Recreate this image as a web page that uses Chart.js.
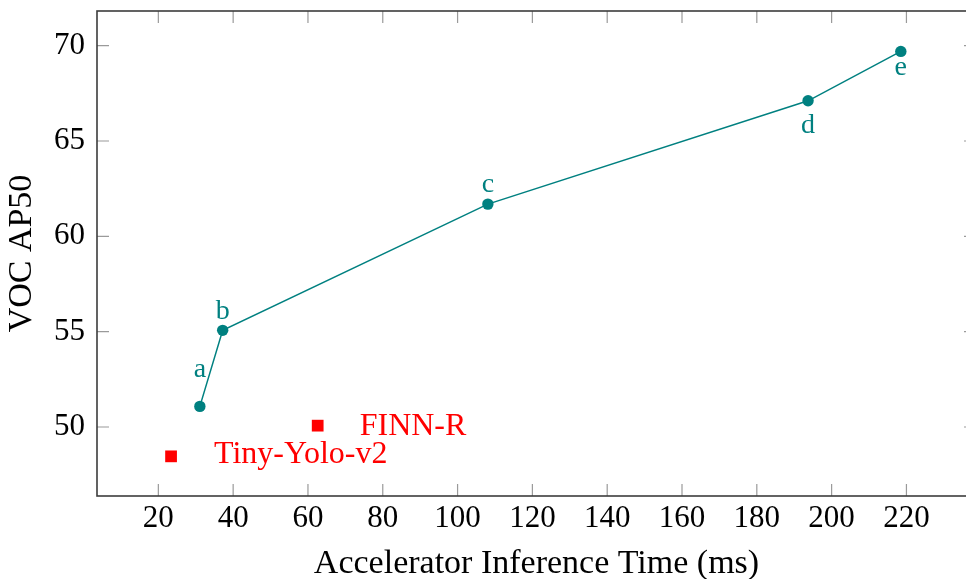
<!DOCTYPE html>
<html>

<head>
    <meta charset="utf-8" />
    <title>VOC AP50 vs Accelerator Inference Time</title>
    <style>
        html, body { margin: 0; padding: 0; background: #fff; overflow: hidden; }
        /* wider than the window: the right frame edge is cut off in the original */
        #wrap { width: 1000px; height: 579px; }
    </style>
</head>

<body>
    <div id="wrap"><canvas id="chart"></canvas></div>

    <script src="https://cdn.jsdelivr.net/npm/chart.js"></script>
    <script type="text/javascript">

        // our networks (a..e)
        const ourNames = ['a', 'b', 'c', 'd', 'e'];
        const ourTimes = [31.1, 37.2, 108.1, 193.7, 218.5];
        const ourAP = [51.08, 55.07, 61.69, 67.11, 69.70];

        // reference designs
        const refNames = ['Tiny-Yolo-v2', 'FINN-R'];
        const refTimes = [23.4, 62.6];
        const refAP = [48.46, 50.07];

        // tick labels
        const xTicks = [20, 40, 60, 80, 100, 120, 140, 160, 180, 200, 220];
        const yTicks = [50, 55, 60, 65, 70];

        // where each label sits relative to its mark (pixels, text baseline)
        const ourLabelOffsets = [[0, -29], [0, -11], [0, -12], [0, 32], [0, 24]];
        const refLabelOffsets = [[43, 7], [42, 9]];

        const TEAL = '#008080';
        const RED = '#ff0000';
        const FONT = "'Liberation Serif', 'Times New Roman', serif";

        // inner tick marks on all sides, the box, and the text next to the marks
        const frameAndLabels = {
            id: 'frameAndLabels',
            afterDraw(chart) {
                const ctx = chart.ctx;
                const a = chart.chartArea;
                const xs = chart.scales.x;
                const ys = chart.scales.y;
                ctx.save();

                ctx.strokeStyle = '#9a9a9a';
                ctx.lineWidth = 1.2;
                ctx.beginPath();
                xTicks.forEach(v => {
                    const px = xs.getPixelForValue(v);
                    ctx.moveTo(px, a.bottom); ctx.lineTo(px, a.bottom - 12);
                    ctx.moveTo(px, a.top); ctx.lineTo(px, a.top + 12);
                });
                yTicks.forEach(v => {
                    const py = ys.getPixelForValue(v);
                    ctx.moveTo(a.left, py); ctx.lineTo(a.left + 12, py);
                    ctx.moveTo(a.right, py); ctx.lineTo(a.right - 12, py);
                });
                ctx.stroke();

                ctx.strokeStyle = '#3c3c3c';
                ctx.lineWidth = 1.6;
                ctx.strokeRect(a.left, a.top, a.right - a.left, a.bottom - a.top);

                ctx.textBaseline = 'alphabetic';

                ctx.font = '28px ' + FONT;
                ctx.fillStyle = TEAL;
                ctx.textAlign = 'center';
                chart.getDatasetMeta(0).data.forEach((pt, i) => {
                    const off = ourLabelOffsets[i];
                    ctx.fillText(ourNames[i], pt.x + off[0], pt.y + off[1]);
                });

                ctx.font = '32px ' + FONT;
                ctx.fillStyle = RED;
                ctx.textAlign = 'left';
                chart.getDatasetMeta(1).data.forEach((pt, i) => {
                    const off = refLabelOffsets[i];
                    ctx.fillText(refNames[i], pt.x + off[0], pt.y + off[1]);
                });

                ctx.restore();
            }
        };

        // the axes should not reserve room for half a tick label at the ends
        function noEdgePadding(s) {
            s.paddingTop = 0;
            s.paddingBottom = 0;
            s.paddingLeft = 0;
            s.paddingRight = 0;
        }

        const ctx = document.getElementById('chart').getContext('2d');

        const myChart = new Chart(ctx, {
            type: 'scatter',
            data: {
                datasets: [{
                    label: 'ours',
                    data: ourTimes.map((t, i) => ({ x: t, y: ourAP[i] })),
                    showLine: true,
                    borderColor: TEAL,
                    borderWidth: 1.5,
                    backgroundColor: TEAL,
                    pointBackgroundColor: TEAL,
                    pointBorderWidth: 0,
                    pointRadius: 5.7
                }, {
                    label: 'reference',
                    data: refTimes.map((t, i) => ({ x: t, y: refAP[i] })),
                    showLine: false,
                    backgroundColor: RED,
                    pointBackgroundColor: RED,
                    pointBorderWidth: 0,
                    pointStyle: 'rect',
                    pointRadius: 8.3
                }]
            },
            options: {
                responsive: true,
                maintainAspectRatio: false,
                animation: false,
                layout: { padding: { left: 0, top: 11, right: 24, bottom: 0 } },
                plugins: {
                    legend: { display: false },
                    tooltip: { enabled: false }
                },
                scales: {
                    x: {
                        type: 'linear',
                        min: 3.6,
                        max: 238.6,
                        afterBuildTicks: s => { s.ticks = xTicks.map(v => ({ value: v })); },
                        afterFit: s => { s.height = 83; noEdgePadding(s); },
                        grid: { display: false, drawTicks: false },
                        border: { display: false },
                        ticks: {
                            color: '#000',
                            font: { family: FONT, size: 31 },
                            padding: 4,
                            maxRotation: 0,
                            autoSkip: false
                        },
                        title: {
                            display: true,
                            text: 'Accelerator Inference Time (ms)',
                            color: '#000',
                            font: { family: FONT, size: 34 },
                            padding: { top: 0, bottom: -5 }
                        }
                    },
                    y: {
                        type: 'linear',
                        min: 46.38,
                        max: 71.82,
                        afterBuildTicks: s => { s.ticks = yTicks.map(v => ({ value: v })); },
                        afterFit: s => { s.width = 97; noEdgePadding(s); },
                        grid: { display: false, drawTicks: false },
                        border: { display: false },
                        ticks: {
                            color: '#000',
                            font: { family: FONT, size: 31 },
                            padding: 12,
                            autoSkip: false
                        },
                        title: {
                            display: true,
                            text: 'VOC AP50',
                            color: '#000',
                            font: { family: FONT, size: 34 },
                            padding: { top: 2, bottom: 0 }
                        }
                    }
                }
            },
            plugins: [frameAndLabels]
        });

    </script>

</body>

</html>
